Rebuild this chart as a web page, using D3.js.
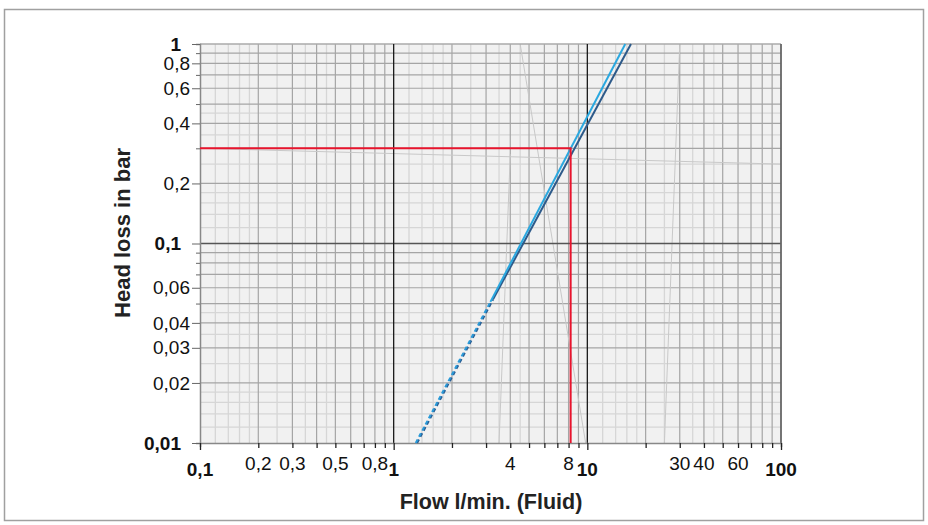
<!DOCTYPE html>
<html><head><meta charset="utf-8">
<script src="https://cdn.jsdelivr.net/npm/d3@7"></script>
<style>
html,body{margin:0;padding:0;background:#fff;}
svg{display:block;font-family:"Liberation Sans",Arial,Helvetica,sans-serif;}
</style></head>
<body>
<svg id="c" width="928" height="525"></svg>
<script>
// ---- data ----
const xLabelValues = [0.1, 0.2, 0.3, 0.5, 0.8, 1, 4, 8, 10, 30, 40, 60, 100];
const xLabelTexts  = ["0,1","0,2","0,3","0,5","0,8","1","4","8","10","30","40","60","100"];
const xBoldValues  = [0.1, 1, 10, 100];
const yLabelValues = [1, 0.8, 0.6, 0.4, 0.2, 0.1, 0.06, 0.04, 0.03, 0.02, 0.01];
const yLabelTexts  = ["1","0,8","0,6","0,4","0,2","0,1","0,06","0,04","0,03","0,02","0,01"];
const yBoldValues  = [1, 0.1, 0.01];
const mainMultiples  = [2,3,4,5,6,7,8,9];
const lightMultiples = [1.2,1.4,1.6,1.8,2.5,3.5,4.5];

const lightBlueFlow   = [3.16, 15.7];
const lightBlueLoss   = [0.051, 1];
const darkBlueFlow    = [3.26, 16.8];
const darkBlueLoss    = [0.0525, 1];
const lightBlueDashFlow = [1.30, 3.16];
const lightBlueDashLoss = [0.01, 0.051];
const darkBlueDashFlow  = [1.32, 3.26];
const darkBlueDashLoss  = [0.01, 0.0525];
const markerFlow = 8.2;
const markerLoss = 0.3;
// faint grey artifact lines
const greyLines = [
  {flow:[0.1, 100], loss:[0.3, 0.25]},
  {flow:[4.5, 9.8], loss:[1, 0.01]},
  {flow:[3.5, 4.0], loss:[0.01, 0.28]},
  {flow:[30, 25],  loss:[1, 0.01]}
];

// ---- chart ----
const svg = d3.select("#c");
const x = d3.scaleLog().domain([0.1,100]).range([200,781]);
const y = d3.scaleLog().domain([0.01,1]).range([443,44]);

svg.append("rect").attr("x",4.5).attr("y",9.5).attr("width",919).attr("height",511)
  .attr("fill","#fff").attr("stroke","#a0a0a0").attr("stroke-width",1.5);

svg.append("rect").attr("x",x(0.1)).attr("y",y(1)).attr("width",x(100)-x(0.1)).attr("height",y(0.01)-y(1))
  .attr("fill","#f1f1f1");

const xDecades = [0.1,1,10];
const yDecades = [0.01,0.1];
const gLight = svg.append("g").attr("stroke","#d6d6d6").attr("stroke-width",1.3);
const gMain = svg.append("g").attr("stroke","#a5a5a5").attr("stroke-width",1.2);
xDecades.forEach(d=>{
  lightMultiples.forEach(m=>gLight.append("line").attr("x1",x(d*m)).attr("x2",x(d*m)).attr("y1",y(1)).attr("y2",y(0.01)));
});
yDecades.forEach(d=>{
  lightMultiples.forEach(m=>gLight.append("line").attr("y1",y(d*m)).attr("y2",y(d*m)).attr("x1",x(0.1)).attr("x2",x(100)));
});
xDecades.forEach(d=>{
  mainMultiples.forEach(m=>gMain.append("line").attr("x1",x(d*m)).attr("x2",x(d*m)).attr("y1",y(1)).attr("y2",y(0.01)));
});
yDecades.forEach(d=>{
  mainMultiples.forEach(m=>gMain.append("line").attr("y1",y(d*m)).attr("y2",y(d*m)).attr("x1",x(0.1)).attr("x2",x(100)));
});

// faint grey lines
const lineGen = d3.line().x(d=>x(d[0])).y(d=>y(d[1]));
greyLines.forEach(g=>{
  svg.append("path").attr("d",lineGen(d3.zip(g.flow,g.loss)))
    .attr("fill","none").attr("stroke","#c8c8c8").attr("stroke-width",1);
});

// decade lines
svg.append("line").attr("x1",x(0.1)).attr("x2",x(100)).attr("y1",y(0.1)).attr("y2",y(0.1)).attr("stroke","#555").attr("stroke-width",1.5);
svg.append("line").attr("x1",x(0.1)).attr("x2",x(100)).attr("y1",y(1)).attr("y2",y(1)).attr("stroke","#aaa").attr("stroke-width",1.5);
[1,10].forEach(v=>svg.append("line").attr("x1",x(v)).attr("x2",x(v)).attr("y1",y(1)).attr("y2",y(0.01)).attr("stroke","#1a1a1a").attr("stroke-width",1.3));
svg.append("line").attr("x1",x(100)).attr("x2",x(100)).attr("y1",y(1)).attr("y2",y(0.01)).attr("stroke","#666").attr("stroke-width",1.8);

// axes
const allTicks = [];
[0.01,0.1].forEach(d=>[1,2,3,4,5,6,7,8,9].forEach(m=>allTicks.push(+(d*m).toPrecision(3))));
allTicks.push(1);
const yAxis = d3.axisLeft(y).tickValues(allTicks).tickFormat("").tickSizeOuter(0)
  .tickSize(4);
const gy = svg.append("g").attr("transform",`translate(${x(0.1)},0)`).call(yAxis);
gy.select(".domain").attr("stroke","#888").attr("stroke-width",1.5);
gy.selectAll(".tick line").attr("stroke","#666")
  .attr("x2",d=>yLabelValues.some(v=>Math.abs(v-d)<1e-9)?-8:-4);

const xTicks = [];
[0.1,1,10].forEach(d=>[1,2,3,4,5,6,7,8,9].forEach(m=>xTicks.push(+(d*m).toPrecision(3))));
xTicks.push(100);
const xAxis = d3.axisBottom(x).tickValues(xTicks).tickFormat("").tickSizeOuter(0).tickSize(4);
const gx = svg.append("g").attr("transform",`translate(0,${y(0.01)})`).call(xAxis);
gx.select(".domain").attr("stroke","#888").attr("stroke-width",1.5);
gx.selectAll(".tick line").attr("stroke","#222").attr("stroke-width",1.3)
  .attr("y2",d=>[1,10,100,0.1].some(v=>Math.abs(v-d)<1e-9)?7:5);

// series
const dashGen = d3.line().x(d=>x(d[0])).y(d=>y(d[1]));
svg.append("path").attr("d",dashGen(d3.zip(darkBlueDashFlow,darkBlueDashLoss))).attr("fill","none")
  .attr("stroke","#2a5f95").attr("stroke-width",2.2).attr("stroke-dasharray","4,3");
svg.append("path").attr("d",dashGen(d3.zip(lightBlueDashFlow,lightBlueDashLoss))).attr("fill","none")
  .attr("stroke","#2a9ad8").attr("stroke-width",2).attr("stroke-dasharray","4,3");
svg.append("path").attr("d",lineGen(d3.zip(darkBlueFlow,darkBlueLoss))).attr("fill","none")
  .attr("stroke","#2d5a8a").attr("stroke-width",2);
svg.append("path").attr("d",lineGen(d3.zip(lightBlueFlow,lightBlueLoss))).attr("fill","none")
  .attr("stroke","#2aa8e0").attr("stroke-width",2);

// red marker
svg.append("path").attr("d",lineGen([[0.1,markerLoss],[markerFlow,markerLoss],[markerFlow,0.01]]))
  .attr("fill","none").attr("stroke","#e8142d").attr("stroke-width",2);

// labels
const isBold = (arr,v)=>arr.some(b=>Math.abs(b-v)<1e-9);
xLabelValues.forEach((v,i)=>{
  const b = isBold(xBoldValues,v);
  svg.append("text").attr("x",x(v)).attr("y",b?476:470).attr("text-anchor","middle")
    .attr("font-size",19).attr("font-weight",b?"bold":"normal").attr("fill","#111").text(xLabelTexts[i]);
});
yLabelValues.forEach((v,i)=>{
  const b = isBold(yBoldValues,v);
  svg.append("text").attr("x",b?181:190).attr("y",y(v)).attr("dy","0.35em").attr("text-anchor","end")
    .attr("font-size",19).attr("font-weight",b?"bold":"normal").attr("fill","#111").text(yLabelTexts[i]);
});
svg.append("text").attr("x",491).attr("y",509).attr("text-anchor","middle")
  .attr("font-size",21.5).attr("font-weight","bold").attr("fill","#222").text("Flow l/min. (Fluid)");
svg.append("text").attr("transform","translate(130,233) rotate(-90)").attr("text-anchor","middle")
  .attr("font-size",22).attr("font-weight","bold").attr("fill","#222").text("Head loss in bar");
</script>
</body></html>
